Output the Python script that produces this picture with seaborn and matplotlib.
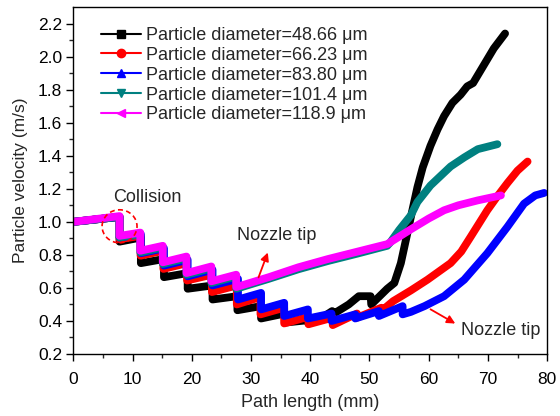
import numpy as np
import pandas as pd
import matplotlib
matplotlib.use("Agg")
import matplotlib.pyplot as plt
from matplotlib.lines import Line2D
from matplotlib.patches import Ellipse
import seaborn as sns

# ---------------- data ----------------
labels = ["Particle diameter=48.66 μm", "Particle diameter=66.23 μm",
          "Particle diameter=83.80 μm", "Particle diameter=101.4 μm",
          "Particle diameter=118.9 μm"]
colors = ["#000000", "#ff0000", "#0000ff", "#008080", "#ff00ff"]
markers = ["s", "o", "^", "v", "<"]

x_d1 = [0, 7.8, 7.8, 11.4, 11.4, 15.3, 15.3, 19.3, 19.3, 23.5, 23.5, 27.7, 27.7, 31.7, 31.7,
        35.7, 35.7, 39.7, 39.7, 42, 43.7, 43.8, 46.5, 48.2, 50.2, 50.3, 53, 54.2, 55.3, 57,
        58.1, 59, 60.3, 61.5, 62.6, 64, 65.4, 66.5, 67.5, 69, 71, 72.9]
y_d1 = [1.0, 1.03, 0.88, 0.905, 0.75, 0.775, 0.665, 0.69, 0.595, 0.615, 0.53, 0.55, 0.465, 0.49, 0.415,
        0.445, 0.39, 0.405, 0.385, 0.42, 0.46, 0.44, 0.50, 0.55, 0.55, 0.50, 0.595, 0.63, 0.75, 1.03,
        1.21, 1.33, 1.46, 1.56, 1.64, 1.72, 1.77, 1.82, 1.84, 1.93, 2.05, 2.14]

x_d2 = [0, 7.8, 7.8, 11.35, 11.35, 15.2, 15.2, 19.2, 19.2, 23.4, 23.4, 27.6, 27.6, 31.6, 31.6,
        35.6, 35.6, 39.7, 39.7, 43.8, 43.8, 47.9, 47.9, 52.0, 52.0, 54, 57, 59.8, 63.7, 65.5,
        67.1, 69.9, 71.5, 73.3, 75, 76.7]
y_d2 = [1.0, 1.03, 0.895, 0.915, 0.795, 0.825, 0.715, 0.75, 0.645, 0.68, 0.575, 0.615, 0.50, 0.545, 0.44,
        0.48, 0.385, 0.425, 0.38, 0.42, 0.375, 0.445, 0.42, 0.48, 0.46, 0.52, 0.585, 0.65, 0.75, 0.82,
        0.91, 1.07, 1.15, 1.235, 1.31, 1.365]

x_d3 = [0, 7.8, 7.8, 11.4, 11.4, 15.3, 15.3, 19.3, 19.3, 23.5, 23.5, 27.8, 27.8, 31.7, 31.7,
        35.6, 35.6, 39.6, 39.6, 43.6, 43.6, 47.6, 47.6, 51.6, 51.6, 55.6, 55.6, 57, 59.3, 62.6,
        66, 69.9, 73.3, 76.1, 78, 79.5]
y_d3 = [1.0, 1.03, 0.905, 0.925, 0.81, 0.84, 0.735, 0.77, 0.67, 0.71, 0.615, 0.655, 0.53, 0.57, 0.47,
        0.51, 0.43, 0.47, 0.415, 0.445, 0.40, 0.44, 0.415, 0.46, 0.43, 0.49, 0.44, 0.455, 0.49, 0.55,
        0.65, 0.81, 0.97, 1.11, 1.16, 1.175]

x_d4 = [0, 7.8, 7.8, 11.3, 11.3, 15.1, 15.1, 19.1, 19.1, 23.3, 23.3, 27.5, 27.5, 33, 38, 43, 48,
        53, 53.5, 55, 57, 58.1, 60.3, 63.7, 66, 68.3, 71.6]
y_d4 = [1.0, 1.03, 0.905, 0.925, 0.815, 0.845, 0.745, 0.78, 0.68, 0.72, 0.63, 0.67, 0.595, 0.655, 0.713,
        0.763, 0.808, 0.855, 0.875, 0.95, 1.04, 1.12, 1.22, 1.335, 1.39, 1.44, 1.47]

x_d5 = [0, 7.8, 7.8, 11.3, 11.3, 15.1, 15.1, 19.1, 19.1, 23.3, 23.3, 27.5, 27.5, 33, 38, 43, 48,
        53, 55, 57, 60, 62.6, 65, 68.3, 72.2]
y_d5 = [1.0, 1.035, 0.915, 0.935, 0.825, 0.855, 0.755, 0.79, 0.69, 0.73, 0.64, 0.68, 0.605, 0.665, 0.725,
        0.775, 0.82, 0.865, 0.91, 0.955, 1.02, 1.07, 1.10, 1.13, 1.16]

xs = [x_d1, x_d2, x_d3, x_d4, x_d5]
ys = [y_d1, y_d2, y_d3, y_d4, y_d5]

x_ticks = [0, 10, 20, 30, 40, 50, 60, 70, 80]
y_ticks = [0.2, 0.4, 0.6, 0.8, 1.0, 1.2, 1.4, 1.6, 1.8, 2.0, 2.2]

# ---------------- build frame ----------------
frames = []
for lab, xv, yv in zip(labels, xs, ys):
    frames.append(pd.DataFrame({"x": xv, "y": yv, "series": lab}))
df = pd.concat(frames, ignore_index=True)

sns.set_theme(style="ticks")
plt.rcParams["font.family"] = ["Liberation Sans", "DejaVu Sans"]

fig = plt.figure(figsize=(5.6, 4.16), dpi=100)
ax = fig.add_axes([0.131, 0.149, 0.846, 0.834])

sns.lineplot(data=df, x="x", y="y", hue="series", hue_order=labels,
             palette=dict(zip(labels, colors)), estimator=None, sort=False,
             units="series", linewidth=5.6, legend=False, ax=ax)

ax.set_xlim(0, 80)
ax.set_ylim(0.2, 2.3)
ax.set_xticks(x_ticks)
ax.set_yticks(y_ticks)
ax.set_yticklabels([f"{v:.1f}" for v in y_ticks])
ax.set_xticks(np.arange(5, 80, 10), minor=True)
ax.set_yticks(np.arange(0.3, 2.3, 0.2), minor=True)
ax.tick_params(axis="x", which="major", direction="out", length=5, width=1,
               labelsize=12.5, colors="black", pad=8)
ax.tick_params(axis="y", which="major", direction="out", length=5, width=1,
               labelsize=12.5, colors="black", pad=3)
ax.tick_params(axis="both", which="minor", direction="out", length=3, width=1)
for s in ax.spines.values():
    s.set_visible(True)
    s.set_linewidth(1.0)
    s.set_color("black")
ax.set_xlabel("Path length (mm)", fontsize=13, labelpad=5)
ax.set_ylabel("Particle velocity (m/s)", fontsize=12.5, labelpad=7)

handles = [Line2D([0], [0], color=c, marker=m, markersize=6, linewidth=1.5)
           for c, m in zip(colors, markers)]
ax.legend(handles, labels, loc="upper left", bbox_to_anchor=(0.059, 0.943), frameon=False,
          fontsize=13, handlelength=2.2, handletextpad=0.25, labelspacing=0.16,
          borderaxespad=0, borderpad=0)

# annotations
ax.add_patch(Ellipse((7.8, 0.973), 5.9, 0.2, fill=False, edgecolor="red",
                     linestyle=(0, (3, 2)), linewidth=1.2, zorder=5))
ax.text(12.55, 1.15, "Collision", fontsize=13, ha="center", va="center")
ax.text(27.7, 0.915, "Nozzle tip", fontsize=13, ha="left", va="center")
ax.annotate("", xy=(33.0, 0.83), xytext=(31.1, 0.648),
            arrowprops=dict(arrowstyle="-|>", color="red", lw=1.3, mutation_scale=12))
ax.text(65.4, 0.345, "Nozzle tip", fontsize=13, ha="left", va="center")
ax.annotate("", xy=(64.9, 0.376), xytext=(59.9, 0.479),
            arrowprops=dict(arrowstyle="-|>", color="red", lw=1.3, mutation_scale=12))

fig.savefig("out.png", dpi=100)
